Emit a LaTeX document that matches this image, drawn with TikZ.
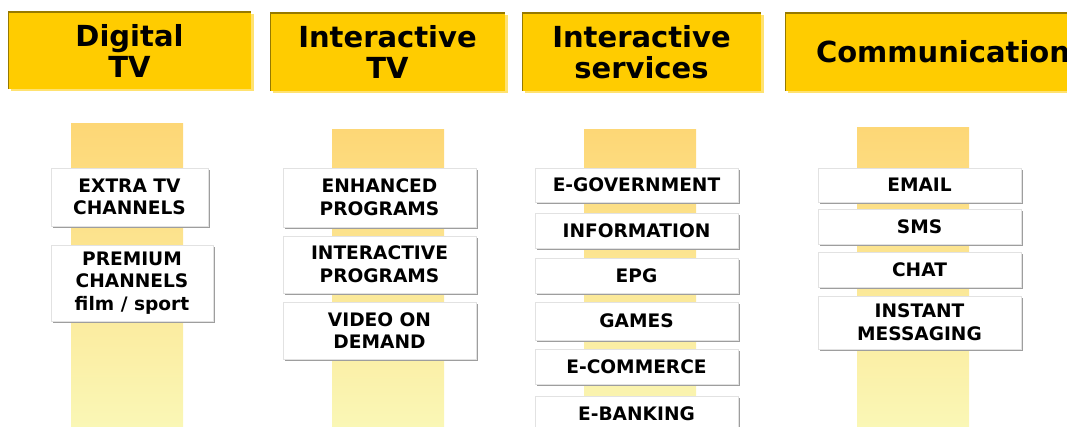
\documentclass[tikz,border=0pt]{standalone}
\usepackage{fontspec}
\setmainfont{DejaVu Sans}
\usetikzlibrary{shadows}
\definecolor{hdr_yellow}{RGB}{255, 204, 0}
\definecolor{hdr_edge}{RGB}{150, 121, 0}
\definecolor{hdr_shadow}{RGB}{255, 226, 112}
\definecolor{band_top}{RGB}{253, 215, 118}
\definecolor{band_bottom}{RGB}{250, 247, 182}
\definecolor{box_edge}{RGB}{226, 226, 226}
\definecolor{box_shadow}{RGB}{158, 158, 158}
\tikzstyle{hdr}=[rectangle,fill=hdr_yellow,inner sep=0pt,align=center,
  font=\bfseries\fontsize{29}{31}\selectfont,
  drop shadow={shadow xshift=2.5pt,shadow yshift=-2.5pt,fill=hdr_shadow,opacity=1},
  path picture={\draw[hdr_edge,line width=1.6pt]
    (path picture bounding box.south west) -- (path picture bounding box.north west)
    -- (path picture bounding box.north east);}]
\tikzstyle{band}=[rectangle,inner sep=0pt,minimum width=112pt,
  top color=band_top,bottom color=band_bottom,anchor=north]
\tikzstyle{item}=[rectangle,fill=white,draw=box_edge,line width=0.6pt,inner sep=0pt,
  align=center,font=\bfseries\fontsize{18.6}{22.6}\selectfont,
  drop shadow={shadow xshift=1.6pt,shadow yshift=-1.6pt,fill=box_shadow,opacity=1}]

\begin{document}
\begin{tikzpicture}[x=1pt,y=-1pt]
        \useasboundingbox (0,0) rectangle (1067,427);
        \clip (0,0) rectangle (1067,427);
        % column headers
        \node [style=hdr,minimum width=243pt,minimum height=77pt] (0) at (129.5,50.5) {Digital\\TV};
        \node [style=hdr,minimum width=235pt,minimum height=78pt] (1) at (387.5,52) {Interactive\\TV};
        \node [style=hdr,minimum width=239pt,minimum height=78pt] (2) at (641.5,52) {Interactive\\services};
        \node [style=hdr,minimum width=316pt,minimum height=78pt] (3) at (943,52) {Communication};
        % stripes behind the boxes
        \node [style=band,minimum height=304pt] (4) at (127,123) {};
        \node [style=band,minimum height=298pt] (5) at (388,129) {};
        \node [style=band,minimum height=298pt] (6) at (640,129) {};
        \node [style=band,minimum height=300pt] (7) at (913,127) {};
        % Digital TV
        \node [style=item,minimum width=157pt,minimum height=58pt] (8) at (129.5,197) {EXTRA TV\\CHANNELS};
        \node [style=item,minimum width=162pt,minimum height=76pt] (9) at (132,283) {PREMIUM\\CHANNELS\\film / sport};
        % Interactive TV
        \node [style=item,minimum width=193pt,minimum height=59pt] (10) at (379.5,197.5) {ENHANCED\\PROGRAMS};
        \node [style=item,minimum width=193pt,minimum height=57pt] (11) at (379.5,264.5) {INTERACTIVE\\PROGRAMS};
        \node [style=item,minimum width=193pt,minimum height=57pt] (12) at (379.5,330.5) {VIDEO ON\\DEMAND};
        % Interactive services
        \node [style=item,minimum width=203pt,minimum height=34pt] (13) at (636.5,185) {E-GOVERNMENT};
        \node [style=item,minimum width=203pt,minimum height=35pt] (14) at (636.5,230.5) {INFORMATION};
        \node [style=item,minimum width=203pt,minimum height=35pt] (15) at (636.5,275.5) {EPG};
        \node [style=item,minimum width=203pt,minimum height=38pt] (16) at (636.5,321) {GAMES};
        \node [style=item,minimum width=203pt,minimum height=35pt] (17) at (636.5,366.5) {E-COMMERCE};
        \node [style=item,minimum width=203pt,minimum height=35pt] (18) at (636.5,413.5) {E-BANKING};
        % Communication
        \node [style=item,minimum width=203pt,minimum height=34pt] (19) at (919.5,185) {EMAIL};
        \node [style=item,minimum width=203pt,minimum height=35pt] (20) at (919.5,226.5) {SMS};
        \node [style=item,minimum width=203pt,minimum height=35pt] (21) at (919.5,269.5) {CHAT};
        \node [style=item,minimum width=203pt,minimum height=53pt] (22) at (919.5,322.5) {INSTANT\\MESSAGING};
    \end{tikzpicture}
\end{document}
